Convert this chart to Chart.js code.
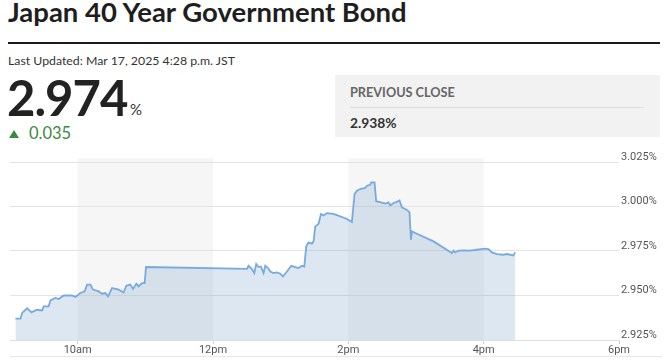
<!DOCTYPE html>
<html>
<head>
<meta charset="utf-8">
<script src="https://cdn.jsdelivr.net/npm/chart.js@4.4.1/dist/chart.umd.min.js"></script>
<style>
  html, body { margin:0; padding:0; background:#fff; width:670px; height:364px; overflow:hidden; }
  body { position:relative; font-family: Lato, 'Noto Sans', sans-serif; }
  .t { position:absolute; line-height:1; white-space:nowrap; }
  #title { left:8px; top:-2px; font-size:27.5px; font-weight:700; color:#1e1e1e; }
  #rule { position:absolute; left:8px; top:42px; width:652px; height:2px; background:#1a1a1a; }
  #upd { left:8px; top:55px; font-size:12.3px; color:#333; }
  #last { left:7px; top:73px; font-size:49px; font-weight:700; color:#222; letter-spacing:-1px; }
  #pct { left:130px; top:102px; font-size:15px; color:#333; }
  #tri { position:absolute; left:9px; top:130px; width:0; height:0;
         border-left:5px solid transparent; border-right:5px solid transparent; border-bottom:8px solid #3b8a3e; }
  #chg { left:29px; top:125px; font-size:16.5px; color:#3b8a3e; }
  #box { position:absolute; left:335px; top:75px; width:325px; height:62px; background:#f2f2f2; }
  #pclab { left:350px; top:86px; font-size:12.7px; font-weight:700; color:#666; }
  #sep { position:absolute; left:350px; top:107px; width:294px; height:1px; background:#dcdcdc; }
  #pcval { left:350px; top:116px; font-size:13.8px; font-weight:700; color:#333; }
  #wrap { position:absolute; left:0; top:150px; width:670px; height:214px; }
  #bot { position:absolute; left:10px; top:356px; width:652px; height:1px; background:#e8e8e8; }
</style>
</head>
<body>
<div class="t" id="title">Japan 40 Year Government Bond</div>
<div id="rule"></div>
<div class="t" id="upd">Last Updated: Mar 17, 2025 4:28 p.m. JST</div>
<div class="t" id="last">2.974</div>
<div class="t" id="pct">%</div>
<div id="tri"></div>
<div class="t" id="chg">0.035</div>
<div id="box"></div>
<div class="t" id="pclab">PREVIOUS CLOSE</div>
<div id="sep"></div>
<div class="t" id="pcval">2.938%</div>
<div id="wrap"><canvas id="c" width="670" height="214"></canvas></div>
<div id="bot"></div>
<script>
// Time of day in hours (9 = 9am)
const times = [9.080, 9.154, 9.179, 9.253, 9.316, 9.400, 9.474, 9.498, 9.572, 9.597,
  9.671, 9.719, 9.793, 9.917, 9.966, 10.040, 10.103, 10.139, 10.188, 10.227,
  10.310, 10.360, 10.409, 10.449, 10.508, 10.606, 10.679, 10.719, 10.778, 10.818,
  10.867, 10.901, 10.951, 10.990, 11.010, 12.502, 12.526, 12.576, 12.610, 12.639,
  12.674, 12.709, 12.747, 12.773, 12.812, 12.846, 12.895, 12.945, 12.994, 13.034,
  13.093, 13.157, 13.216, 13.264, 13.315, 13.349, 13.378, 13.412, 13.462, 13.486,
  13.511, 13.545, 13.560, 13.595, 13.634, 13.684, 13.781, 13.880, 13.979, 14.053,
  14.092, 14.127, 14.176, 14.250, 14.275, 14.323, 14.338, 14.387, 14.412, 14.471,
  14.545, 14.594, 14.619, 14.668, 14.708, 14.756, 14.792, 14.840, 14.875, 14.904,
  14.925, 14.940, 15.013, 15.259, 15.530, 15.554, 15.579, 15.628, 15.702, 15.801,
  15.900, 16.023, 16.071, 16.122, 16.195, 16.293, 16.342, 16.440, 16.465];
// Yield in percent
const yields = [2.9370, 2.9370, 2.9402, 2.9428, 2.9405, 2.9420, 2.9416, 2.9439, 2.9439, 2.9472,
  2.9486, 2.9480, 2.9500, 2.9500, 2.9492, 2.9514, 2.9523, 2.9561, 2.9561, 2.9533,
  2.9523, 2.9510, 2.9514, 2.9495, 2.9542, 2.9533, 2.9517, 2.9555, 2.9561, 2.9537,
  2.9566, 2.9551, 2.9570, 2.9570, 2.9660, 2.9650, 2.9667, 2.9649, 2.9626, 2.9677,
  2.9660, 2.9663, 2.9626, 2.9667, 2.9654, 2.9635, 2.9626, 2.9630, 2.9622, 2.9607,
  2.9635, 2.9667, 2.9660, 2.9654, 2.9667, 2.9663, 2.9776, 2.9798, 2.9791, 2.9804,
  2.9888, 2.9898, 2.9903, 2.9958, 2.9950, 2.9963, 2.9958, 2.9944, 2.9930, 2.9913,
  3.0070, 3.0089, 3.0098, 3.0104, 3.0117, 3.0122, 3.0135, 3.0135, 3.0029, 3.0025,
  3.0016, 3.0023, 3.0006, 3.0020, 3.0025, 3.0034, 2.9995, 2.9986, 2.9978, 2.9967,
  2.9813, 2.9860, 2.9847, 2.9804, 2.9739, 2.9752, 2.9742, 2.9752, 2.9753, 2.9752,
  2.9757, 2.9763, 2.9761, 2.9742, 2.9733, 2.9729, 2.9733, 2.9725, 2.9742];
const xTickValues = [10, 12, 14, 16, 18];
const xTickLabels = ['10am', '12pm', '2pm', '4pm', '6pm'];
const yTickValues = [2.925, 2.950, 2.975, 3.000, 3.025];
const shadedBands = [[10, 12], [14, 16]];

const bandPlugin = {
  id: 'bands',
  beforeDraw(chart) {
    const { ctx, chartArea, scales } = chart;
    ctx.save();
    ctx.fillStyle = '#f6f6f6';
    shadedBands.forEach(([a, b]) => {
      const x0 = scales.x.getPixelForValue(a);
      const x1 = scales.x.getPixelForValue(b);
      ctx.fillRect(x0, chartArea.top - 4, x1 - x0, chartArea.bottom - chartArea.top + 4);
    });
    ctx.restore();
  }
};

const axisFont = { family: "Roboto, 'Liberation Sans', sans-serif", size: 11 };

new Chart(document.getElementById('c'), {
  type: 'line',
  data: {
    datasets: [{
      data: times.map((t, i) => ({ x: t, y: yields[i] })),
      borderColor: '#78aadf',
      borderWidth: 1.8,
      backgroundColor: 'rgba(120,160,200,0.25)',
      fill: 'start',
      pointRadius: 0,
      tension: 0
    }]
  },
  options: {
    responsive: false,
    animation: false,
    layout: { padding: { left: 10, top: 12, right: 0, bottom: 0 } },
    plugins: { legend: { display: false }, tooltip: { enabled: false } },
    scales: {
      x: {
        type: 'linear',
        min: 9, max: 18,
        afterBuildTicks: s => { s.ticks = xTickValues.map(v => ({ value: v })); },
        afterFit: s => { s.height = 24; },
        grid: { drawOnChartArea: false, drawTicks: true, tickLength: 4, color: '#d0d0d0' },
        border: { display: true, color: '#e0e0e0' },
        ticks: {
          padding: 0,
          color: '#555',
          font: axisFont,
          maxRotation: 0,
          callback: v => xTickLabels[xTickValues.indexOf(v)]
        }
      },
      y: {
        position: 'right',
        min: 2.925, max: 3.025,
        afterBuildTicks: s => { s.ticks = yTickValues.map(v => ({ value: v })); },
        afterFit: s => { s.width = 51; },
        grid: { color: '#e3e3e3', drawTicks: false },
        border: { display: false },
        ticks: {
          padding: 2,
          labelOffset: -5,
          color: '#555',
          font: axisFont,
          callback: v => v.toFixed(3) + '%'
        }
      }
    }
  },
  plugins: [bandPlugin]
});
</script>
</body>
</html>
